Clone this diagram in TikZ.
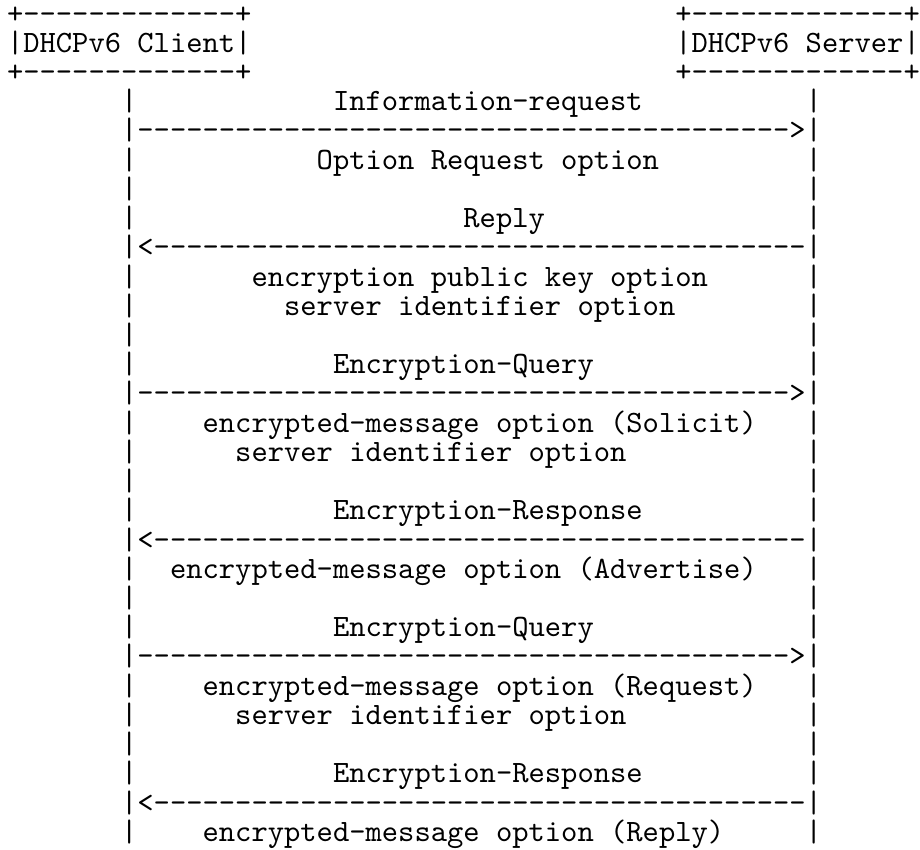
\documentclass[tikz,border=0pt]{standalone}
\usepackage{fontspec}
\newfontfamily\asciifont{lmmono10-regular.otf}
\newcommand\asciirow[4]{\node[ascii] (#1) at ({7+16.3*#2},{-(23.1+29.22*(#3-1))}) {#4};}
\begin{document}
\begin{tikzpicture}[x=1pt,y=1pt,
  ascii/.style={font=\asciifont\fontsize{31.05pt}{29.22pt}\selectfont, text=black,
    inner sep=0pt, outer sep=0pt, anchor=base west}]
\fill[white] (0,0) rectangle (920,-849);
\useasboundingbox (0,0) rectangle (920,-849);
% boxes
\asciirow{clienttop}{0}{1}{+-------------+}
\asciirow{client}{0}{2}{|DHCPv6 Client|}
\asciirow{clientbot}{0}{3}{+-------------+}
\asciirow{servertop}{41}{1}{+-------------+}
\asciirow{server}{41}{2}{|DHCPv6 Server|}
\asciirow{serverbot}{41}{3}{+-------------+}
% lifelines
\foreach \n in {4,...,29}{
  \asciirow{lb\n}{7}{\n}{|}
  \asciirow{rb\n}{49}{\n}{|}
}
% messages
\asciirow{m1}{20}{4}{Information-request}
\asciirow{a1}{8}{5}{---------------------------------------->}
\asciirow{o1}{19}{6}{Option Request option}
\asciirow{m2}{28}{8}{Reply}
\asciirow{a2}{8}{9}{<----------------------------------------}
\asciirow{o2}{15}{10}{encryption public key option}
\asciirow{o3}{17}{11}{server identifier option}
\asciirow{m3}{20}{13}{Encryption-Query}
\asciirow{a3}{8}{14}{---------------------------------------->}
\asciirow{o4}{12}{15}{encrypted-message option (Solicit)}
\asciirow{o5}{14}{16}{server identifier option}
\asciirow{m4}{20}{18}{Encryption-Response}
\asciirow{a4}{8}{19}{<----------------------------------------}
\asciirow{o6}{10}{20}{encrypted-message option (Advertise)}
\asciirow{m5}{20}{22}{Encryption-Query}
\asciirow{a5}{8}{23}{---------------------------------------->}
\asciirow{o7}{12}{24}{encrypted-message option (Request)}
\asciirow{o8}{14}{25}{server identifier option}
\asciirow{m6}{20}{27}{Encryption-Response}
\asciirow{a6}{8}{28}{<----------------------------------------}
\asciirow{o9}{12}{29}{encrypted-message option (Reply)}
\end{tikzpicture}
\end{document}
